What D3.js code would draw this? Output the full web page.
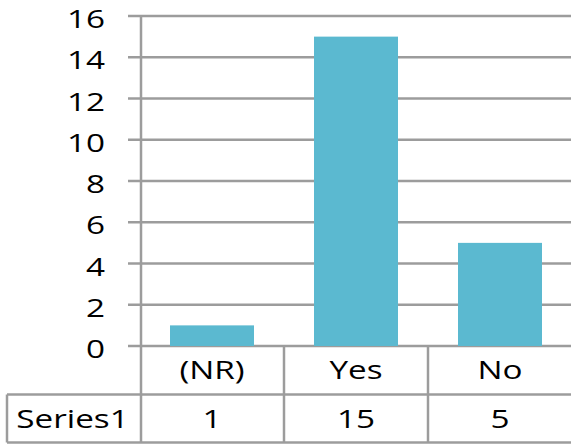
<!DOCTYPE html>
<html>
<head>
<meta charset="utf-8">
<script src="https://cdn.jsdelivr.net/npm/d3@7"></script>
<style>
  body { margin: 0; background: #fff; }
  text { font-family: "Open Sans", sans-serif; fill: #000; }
</style>
</head>
<body>
<svg id="chart" width="571" height="444"></svg>
<script>
// chart data
var categories = ["(NR)", "Yes", "No"];
var series1 = [1, 15, 5];
var seriesName = "Series1";
var yTicks = [0, 2, 4, 6, 8, 10, 12, 14, 16];

var svg = d3.select("#chart");
var grey = "#9c9c9c";
var barColour = "#5bb9d0";
var sx = 1.28; // text in the original is stretched wide

// plot area
var plotLeft = 140, plotRight = 572, plotTop = 16, plotBottom = 346;
var rowH = 48.5;

var x = d3.scaleBand().domain(categories).range([plotLeft, plotRight])
  .paddingInner(60 / 144).paddingOuter(30 / 144);
var y = d3.scaleLinear().domain([0, 16]).range([plotBottom, plotTop]);

function stretchText(sel, px, py) {
  sel.attr("transform", "translate(" + px + "," + py + ") scale(" + sx + ",1)");
}

// gridlines and y labels
var yAxis = svg.append("g");
yAxis.selectAll("line").data(yTicks).enter().append("line")
  .attr("x1", plotLeft - 12).attr("x2", 571)
  .attr("y1", function(d) { return y(d); })
  .attr("y2", function(d) { return y(d); })
  .attr("stroke", grey).attr("stroke-width", 2.5);
yAxis.selectAll("text").data(yTicks).enter().append("text")
  .attr("text-anchor", "end")
  .attr("font-size", 26)
  .attr("dy", "0.35em")
  .each(function(d) { stretchText(d3.select(this), 105, y(d) + 3); })
  .text(function(d) { return d; });

// bars
svg.selectAll("rect.bar").data(series1).enter().append("rect")
  .attr("class", "bar")
  .attr("x", function(d, i) { return x(categories[i]); })
  .attr("y", function(d) { return y(d); })
  .attr("width", x.bandwidth())
  .attr("height", function(d) { return plotBottom - y(d); })
  .attr("fill", barColour);

// data table
var step = x.step();
var row1 = plotBottom + rowH, row2 = plotBottom + 2 * rowH - 0.5;
var tbl = svg.append("g").attr("stroke", grey).attr("stroke-width", 2.5);
tbl.append("line").attr("x1", 7).attr("x2", 571).attr("y1", row1).attr("y2", row1);
tbl.append("line").attr("x1", 7).attr("x2", 571).attr("y1", row2).attr("y2", row2);
tbl.append("line").attr("x1", 7).attr("x2", 7).attr("y1", row1).attr("y2", row2);
tbl.append("line").attr("x1", plotLeft + 1).attr("x2", plotLeft + 1).attr("y1", plotTop).attr("y2", row2);
tbl.selectAll("line.sep").data(categories.slice(1)).enter().append("line")
  .attr("class", "sep")
  .attr("x1", function(d, i) { return plotLeft + (i + 1) * step; })
  .attr("x2", function(d, i) { return plotLeft + (i + 1) * step; })
  .attr("y1", plotBottom).attr("y2", row2);

// category labels
svg.selectAll("text.cat").data(categories).enter().append("text")
  .attr("class", "cat")
  .attr("text-anchor", "middle")
  .attr("font-size", 26)
  .attr("dy", "0.35em")
  .each(function(d) { stretchText(d3.select(this), x(d) + x.bandwidth() / 2, plotBottom + rowH / 2); })
  .text(function(d) { return d; });

// value row
svg.append("text")
  .attr("text-anchor", "middle")
  .attr("font-size", 26)
  .attr("dy", "0.35em")
  .call(stretchText, (7 + plotLeft) / 2 - 1, row1 + rowH / 2)
  .text(seriesName);
svg.selectAll("text.val").data(series1).enter().append("text")
  .attr("class", "val")
  .attr("text-anchor", "middle")
  .attr("font-size", 26)
  .attr("dy", "0.35em")
  .each(function(d, i) { stretchText(d3.select(this), x(categories[i]) + x.bandwidth() / 2, row1 + rowH / 2); })
  .text(function(d) { return d; });
</script>
</body>
</html>
